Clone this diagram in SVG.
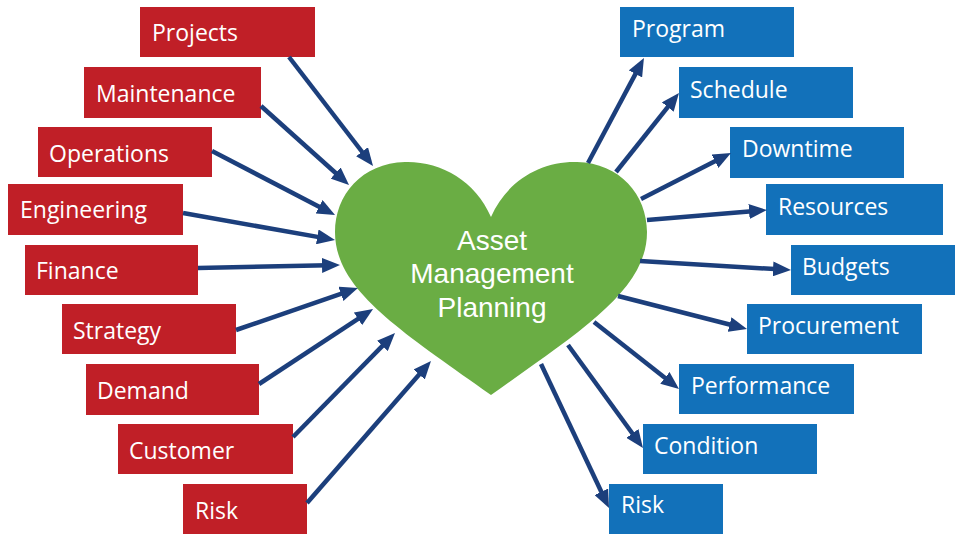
<svg xmlns="http://www.w3.org/2000/svg" width="955" height="534" viewBox="0 0 955 534">
  <style>
    .in rect { fill: #C01F27; }
    .out rect { fill: #1271BA; }
    .lbl { font-family: "Open Sans", "Liberation Sans", sans-serif; font-size: 23px; fill: #FFFFFF; }
    .core { font-family: "Liberation Sans", Arial, sans-serif; font-size: 28px; fill: #FFFFFF; text-anchor: middle; }
    #connectors line { stroke: #1C3F7C; stroke-width: 4.5; marker-end: url(#head); }
  </style>
  <defs>
    <marker id="head" markerUnits="userSpaceOnUse" markerWidth="18" markerHeight="15" refX="6" refY="7.5" orient="auto">
      <path d="M0,0 L18,7.5 L0,15 Z" fill="#1C3F7C"/>
    </marker>
  </defs>
  <rect width="955" height="534" fill="#FFFFFF"/>

  <!-- central heart -->
  <g id="asset-management-planning">
    <path d="M491,217 C475,180 440,161 405,162 C362,163 335,195 335,232 C335,290 400,330 491,395 C582,330 647,290 647,232 C647,195 620,163 577,162 C542,161 507,180 491,217 Z" fill="#6AAD44"/>
    <text class="core" x="492" y="250">Asset</text>
    <text class="core" x="492" y="283">Management</text>
    <text class="core" x="492" y="317">Planning</text>
  </g>

  <!-- inputs -->
  <g id="in-projects" class="in"><rect x="140" y="7" width="175" height="50"/><text class="lbl" x="152" y="41">Projects</text></g>
  <g id="in-maintenance" class="in"><rect x="84" y="67" width="177" height="51"/><text class="lbl" x="96" y="102">Maintenance</text></g>
  <g id="in-operations" class="in"><rect x="38" y="127" width="174" height="50"/><text class="lbl" x="49" y="162">Operations</text></g>
  <g id="in-engineering" class="in"><rect x="8" y="184" width="175" height="51"/><text class="lbl" x="20" y="218">Engineering</text></g>
  <g id="in-finance" class="in"><rect x="25" y="245" width="173" height="50"/><text class="lbl" x="36" y="279">Finance</text></g>
  <g id="in-strategy" class="in"><rect x="62" y="304" width="174" height="50"/><text class="lbl" x="73" y="339">Strategy</text></g>
  <g id="in-demand" class="in"><rect x="86" y="364" width="173" height="51"/><text class="lbl" x="97" y="399">Demand</text></g>
  <g id="in-customer" class="in"><rect x="118" y="424" width="175" height="50"/><text class="lbl" x="129" y="459">Customer</text></g>
  <g id="in-risk" class="in"><rect x="183" y="484" width="124" height="50"/><text class="lbl" x="195" y="519">Risk</text></g>

  <!-- outputs -->
  <g id="out-program" class="out"><rect x="620" y="7" width="174" height="50"/><text class="lbl" x="632" y="37">Program</text></g>
  <g id="out-schedule" class="out"><rect x="679" y="67" width="174" height="51"/><text class="lbl" x="690" y="98">Schedule</text></g>
  <g id="out-downtime" class="out"><rect x="730" y="127" width="174" height="51"/><text class="lbl" x="742" y="157">Downtime</text></g>
  <g id="out-resources" class="out"><rect x="766" y="184" width="177" height="51"/><text class="lbl" x="778" y="215">Resources</text></g>
  <g id="out-budgets" class="out"><rect x="791" y="245" width="164" height="50"/><text class="lbl" x="802" y="275">Budgets</text></g>
  <g id="out-procurement" class="out"><rect x="747" y="304" width="175" height="50"/><text class="lbl" x="758" y="334">Procurement</text></g>
  <g id="out-performance" class="out"><rect x="679" y="364" width="175" height="50"/><text class="lbl" x="691" y="394">Performance</text></g>
  <g id="out-condition" class="out"><rect x="643" y="424" width="174" height="50"/><text class="lbl" x="654" y="454">Condition</text></g>
  <g id="out-risk" class="out"><rect x="609" y="484" width="114" height="50"/><text class="lbl" x="621" y="513">Risk</text></g>

  <!-- arrows -->
  <g id="connectors">
    <line x1="289" y1="57" x2="365.7" y2="156.5"/>
    <line x1="261" y1="106" x2="340.1" y2="177"/>
    <line x1="212" y1="151" x2="324.4" y2="209.5"/>
    <line x1="183" y1="213" x2="323.2" y2="237.9"/>
    <line x1="198" y1="268" x2="328" y2="265.3"/>
    <line x1="236" y1="330" x2="346.6" y2="291.9"/>
    <line x1="259" y1="384" x2="363" y2="315.6"/>
    <line x1="293" y1="437" x2="386.6" y2="341.6"/>
    <line x1="307" y1="503" x2="423.1" y2="370"/>

    <line x1="588" y1="163" x2="638.3" y2="68.6"/>
    <line x1="616" y1="172" x2="671.5" y2="102.4"/>
    <line x1="641" y1="199" x2="720.3" y2="158.5"/>
    <line x1="647" y1="220" x2="755" y2="211"/>
    <line x1="640" y1="261" x2="779" y2="269.3"/>
    <line x1="618" y1="296" x2="735.4" y2="326"/>
    <line x1="594" y1="322" x2="669.6" y2="381.6"/>
    <line x1="568" y1="345" x2="635.9" y2="438.3"/>
    <line x1="541" y1="364" x2="603.9" y2="497.2"/>
  </g>
</svg>
